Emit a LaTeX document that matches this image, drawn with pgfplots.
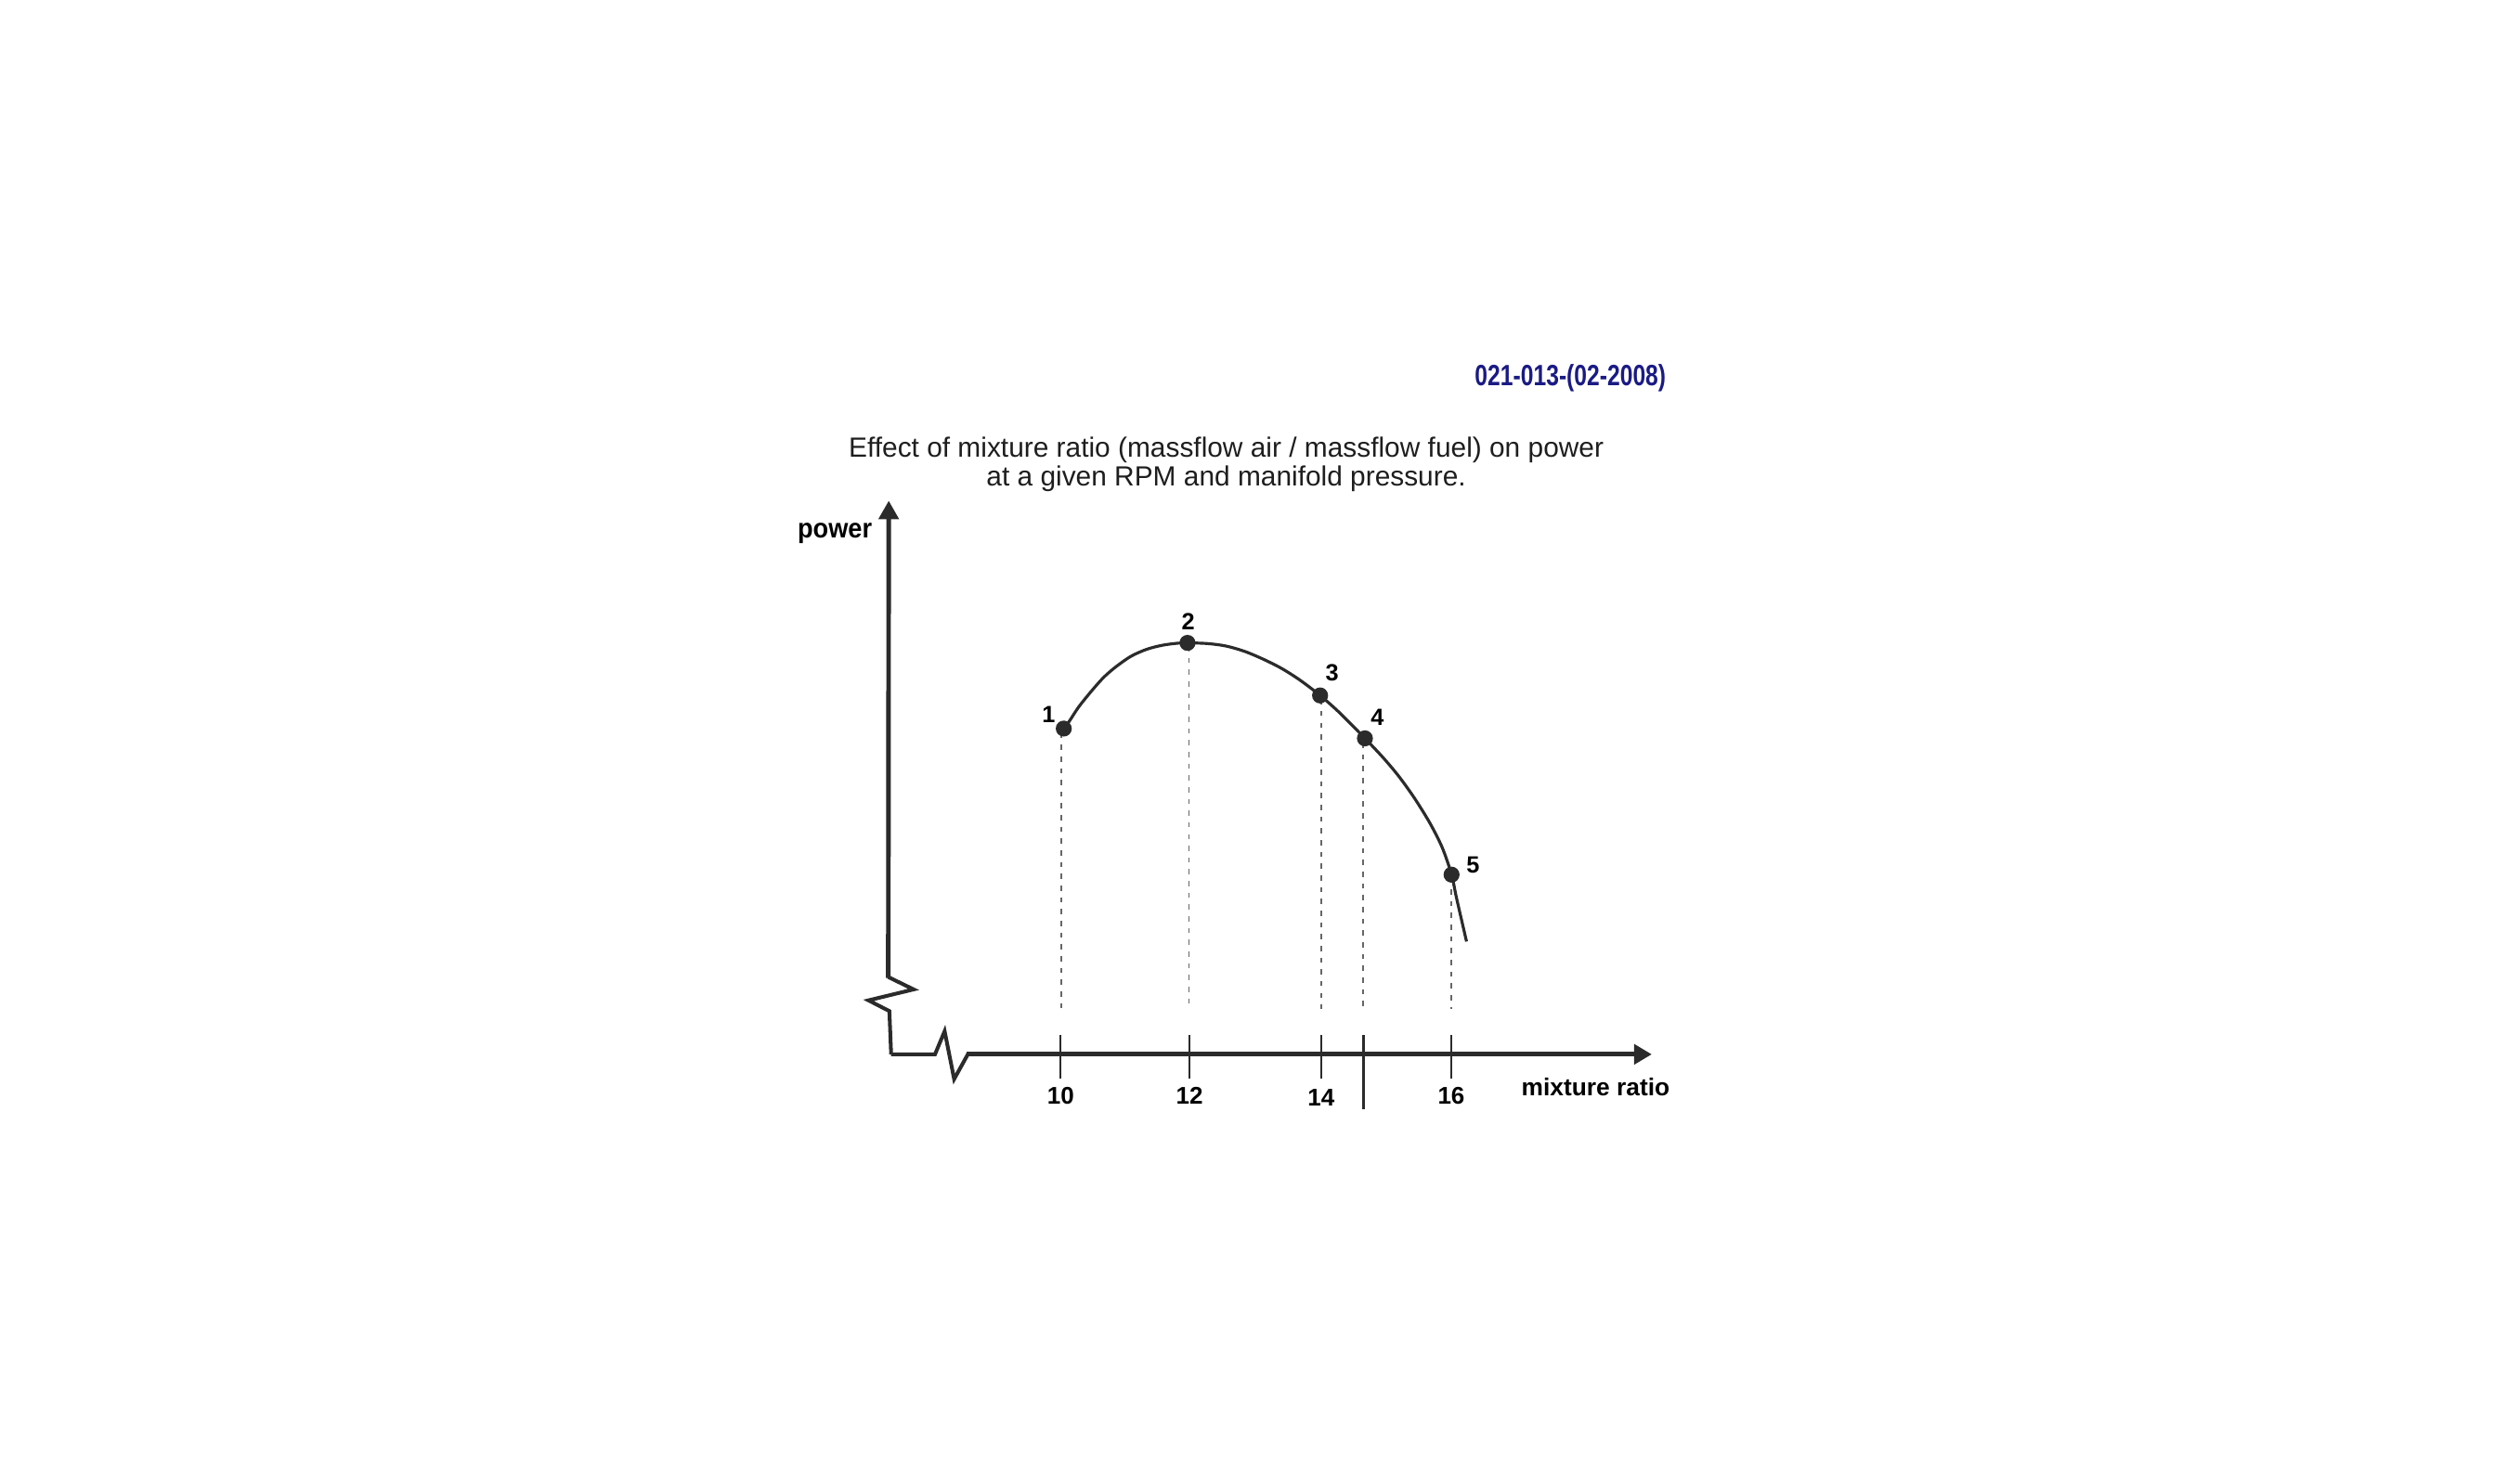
\documentclass[border=0pt]{standalone}
\usepackage{pgfplots}
\pgfplotsset{compat=1.18}
\usepackage{fontspec}
\setmainfont{Liberation Sans}
\usetikzlibrary{arrows.meta}
\definecolor{ink}{HTML}{2B2B2B}
\definecolor{dropc}{HTML}{666666}
\definecolor{navy}{HTML}{1A1A85}
\definecolor{titlec}{HTML}{1E1E1E}
\pgfplotstableread{
x y
10.047 20.27
10.133 20.73
10.274 21.60
10.464 22.56
10.654 23.43
10.844 24.10
11.081 24.77
11.321 25.20
11.558 25.45
11.795 25.58
11.948 25.60
12.249 25.56
12.533 25.41
12.820 25.08
13.104 24.60
13.390 24.02
13.674 23.29
13.985 22.33
14.291 21.23
14.674 19.66
14.958 18.44
15.198 17.28
15.435 15.94
15.672 14.39
15.862 12.86
16.005 11.18
16.080 9.75
16.235 7.02
}\curve
\pgfplotstableread{
x y label
10.047 20.27 1
11.948 25.60 2
13.985 22.33 3
14.674 19.66 4
16.005 11.18 5
}\points
\pgfplotstableread{
x y
10.01 20.0
10.01 2.8
nan nan
11.97 25.4
11.97 2.8
nan nan
14.0 22.1
14.0 2.8
nan nan
14.65 19.4
14.65 2.8
nan nan
16.0 11.0
16.0 2.8
}\drops
\begin{document}
\begin{tikzpicture}
\begin{axis}[
  width=27.14cm, height=15.74cm, scale only axis,
  xmin=-6.296, xmax=32.42, ymin=-25.3, ymax=65.6,
  hide axis, clip=false,
  unbounded coords=jump,
]
\path (rel axis cs:0,0) rectangle (rel axis cs:1,1);
% axes with breaks
\draw[ink, line width=1.15pt, line join=miter]
  (axis cs:7.395,0) -- (axis cs:7.368,2.69) -- (axis cs:7.047,3.36)
  -- (axis cs:7.741,4.04) -- (axis cs:7.351,4.81);
\draw[ink, line width=1.4pt, -{Triangle[length=0.2cm,width=0.21cm]}]
  (axis cs:7.351,4.75) -- (axis cs:7.358,34.45);
\draw[ink, line width=1.15pt, line join=miter]
  (axis cs:7.395,0) -- (axis cs:8.069,0) -- (axis cs:8.217,1.44)
  -- (axis cs:8.363,-1.54) -- (axis cs:8.580,0.05);
\draw[ink, line width=1.45pt, -{Triangle[length=0.19cm,width=0.21cm]}]
  (axis cs:8.56,0) -- (axis cs:19.081,0);
% ticks
\draw[ink, line width=0.6pt] (axis cs:10,1.2) -- (axis cs:10,-1.5);
\draw[ink, line width=0.6pt] (axis cs:11.98,1.2) -- (axis cs:11.98,-1.5);
\draw[ink, line width=0.6pt] (axis cs:14,1.2) -- (axis cs:14,-1.5);
\draw[ink, line width=0.6pt] (axis cs:16,1.2) -- (axis cs:16,-1.5);
\draw[ink, line width=0.75pt] (axis cs:14.65,1.2) -- (axis cs:14.65,-3.44);
% drop lines
\addplot[dropc, line width=0.5pt, dash pattern=on 1.6pt off 2.0pt] table[x=x,y=y] {\drops};
% curve
\addplot[ink, line width=0.9pt, smooth, tension=0.5] table[x=x,y=y] {\curve};
\addplot[only marks, mark=*, mark size=2.25pt, mark options={fill=ink, draw=ink}] table[x=x,y=y] {\points};
% point labels
\node[font=\fontsize{7.2}{8}\selectfont\bfseries, text=black] at (axis cs:9.815,21.15) {1};
\node[font=\fontsize{7.2}{8}\selectfont\bfseries, text=black] at (axis cs:11.96,26.95) {2};
\node[font=\fontsize{7.2}{8}\selectfont\bfseries, text=black] at (axis cs:14.17,23.75) {3};
\node[font=\fontsize{7.2}{8}\selectfont\bfseries, text=black] at (axis cs:14.864,20.98) {4};
\node[font=\fontsize{7.2}{8}\selectfont\bfseries, text=black] at (axis cs:16.333,11.79) {5};
% tick labels
\node[anchor=base, font=\fontsize{7.4}{8}\selectfont\bfseries] at (axis cs:10,-3.11) {10};
\node[anchor=base, font=\fontsize{7.4}{8}\selectfont\bfseries] at (axis cs:11.98,-3.11) {12};
\node[anchor=base, font=\fontsize{7.4}{8}\selectfont\bfseries] at (axis cs:14,-3.19) {14};
\node[anchor=base, font=\fontsize{7.4}{8}\selectfont\bfseries] at (axis cs:16,-3.10) {16};
% axis labels
\node[anchor=base west, inner sep=0pt, font=\fontsize{7.5}{8}\selectfont\bfseries] at (axis cs:17.069,-2.57) {mixture ratio};
\node[anchor=base east, inner sep=0pt, font=\fontsize{8.4}{9}\selectfont\bfseries] at (axis cs:7.111,32.13) {\scalebox{0.92}[1]{power}};
% title
\node[anchor=base, inner sep=0pt, text=titlec, font=\fontsize{8.5}{9.4}\selectfont] at (axis cs:12.543,37.14) {Effect of mixture ratio (massflow air / massflow fuel) on power};
\node[anchor=base, inner sep=0pt, text=titlec, font=\fontsize{8.5}{9.4}\selectfont] at (axis cs:12.543,35.37) {at a given RPM and manifold pressure.};
% code
\node[anchor=base east, inner sep=0pt, text=navy, font=\fontsize{9}{10}\selectfont\bfseries] at (axis cs:19.309,41.62) {\scalebox{0.78}[1]{021-013-(02-2008)}};
\end{axis}
\end{tikzpicture}
\end{document}
